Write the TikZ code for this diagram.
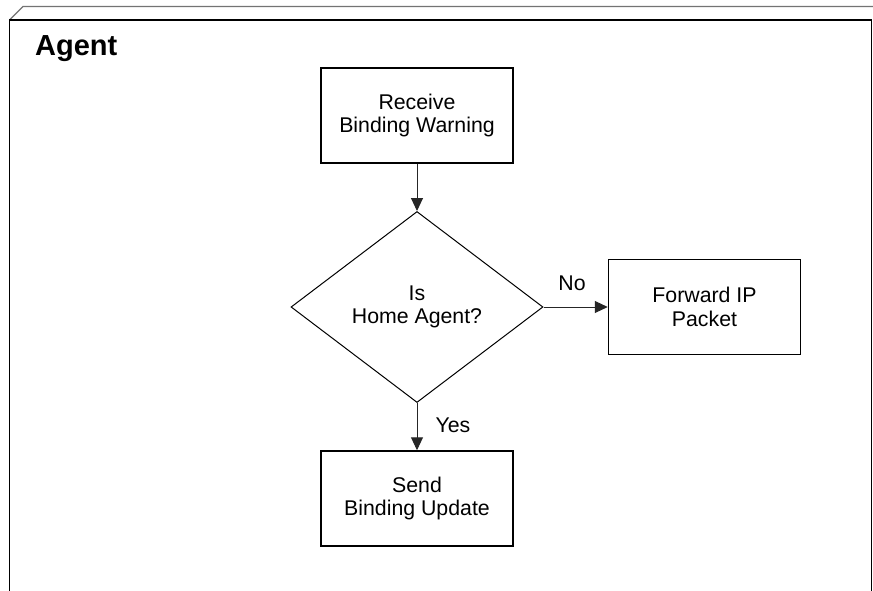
\documentclass[tikz,border=0pt]{standalone}
\usepackage{fontspec}
\setmainfont{Liberation Sans}
\usetikzlibrary{shapes.geometric,arrows.meta}
\begin{document}
\begin{tikzpicture}[x=1pt,y=-1pt,
  every node/.style={font=\fontsize{21.3}{23.7}\selectfont, text=black},
  process/.style={draw=black, line width=1.5pt, minimum width=192pt, minimum height=95pt, inner sep=0pt, align=center},
  decision/.style={draw=black, line width=1pt, diamond, aspect=1.3125, minimum width=252pt, minimum height=191pt, inner sep=0pt, align=center},
  flow/.style={draw=black!85, line width=1pt, -{Triangle[length=13pt,width=12pt]}},
  edgelabel/.style={inner sep=0pt}
]
\useasboundingbox (0,0) rectangle (873,591);
\fill[white] (0,0) rectangle (873,591);

% swimlane frame: front face, bevel and back edge
\draw[black!55, line width=1.3pt] (9.5,20) -- (23,6.5) -- (873,6.5);
\draw[black, line width=1.7pt] (9.5,591) -- (9.5,20) -- (871.5,20) -- (871.5,591);
\node[anchor=base west, inner sep=0pt, font=\bfseries\fontsize{29}{32}\selectfont] (lane) at (35,55.5) {Agent};

% flow steps
\node[process] (recv) at (417,115.5) {Receive\\Binding Warning};
\node[decision] (isha) at (417,307) {Is\\Home Agent?};
\node[process] (fwd) at (704.5,307) {Forward IP\\Packet};
\node[process] (send) at (417,498.5) {Send\\Binding Update};

% connectors
\draw[flow] (recv.south) -- (isha.north);
\draw[flow] (isha.east) -- (fwd.west);
\draw[flow] (isha.south) -- (send.north);

\node[edgelabel] (nolbl) at (572,283) {No};
\node[edgelabel] (yeslbl) at (453,425) {Yes};
\end{tikzpicture}
\end{document}
